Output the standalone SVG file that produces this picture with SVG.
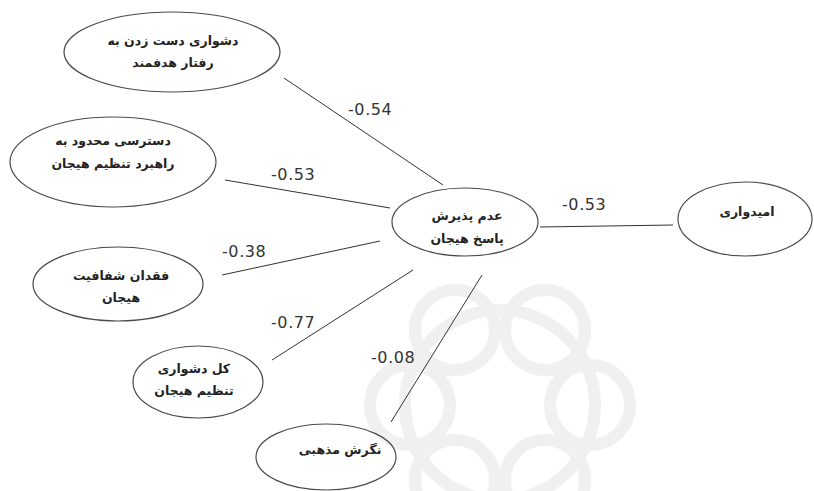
<svg xmlns="http://www.w3.org/2000/svg" width="814" height="491" viewBox="0 0 814 491">
<style>
.node ellipse{fill:none;stroke:#4a4a4a;stroke-width:1.2}
.node text{font-family:"DejaVu Sans",sans-serif;font-weight:bold;font-size:12.5px;fill:#222;text-anchor:middle}
.edge line{stroke:#333;stroke-width:1}
.lbl{font-family:"DejaVu Sans",sans-serif;font-size:16px;fill:#333;letter-spacing:0.6px}
.wm{fill:none;stroke:#f0f0f0;stroke-width:12}
</style>
<rect width="814" height="491" fill="#ffffff"/>
<g id="watermark" class="wm">
<circle cx="455" cy="330" r="40"/>
<circle cx="545" cy="330" r="40"/>
<circle cx="410" cy="405" r="40"/>
<circle cx="590" cy="405" r="40"/>
<circle cx="455" cy="480" r="40"/>
<circle cx="545" cy="480" r="40"/>
<circle cx="500" cy="405" r="95"/>
</g>
<g id="connectors" class="edge">
<line x1="284" y1="78" x2="443" y2="185"/>
<line x1="225" y1="180" x2="390" y2="208"/>
<line x1="222" y1="275" x2="380" y2="241"/>
<line x1="272" y1="360" x2="413" y2="270"/>
<line x1="391" y1="422" x2="482" y2="275"/>
<line x1="540" y1="227" x2="673" y2="225"/>
<text class="lbl" x="348" y="115">-0.54</text>
<text class="lbl" x="271" y="180">-0.53</text>
<text class="lbl" x="222" y="257">-0.38</text>
<text class="lbl" x="271" y="328">-0.77</text>
<text class="lbl" x="371" y="363">-0.08</text>
<text class="lbl" x="562" y="210">-0.53</text>
</g>
<g id="n1" class="node">
<ellipse cx="172" cy="52" rx="108" ry="40"/>
<text x="173" y="45">دشواری دست زدن به</text>
<text x="173" y="67">رفتار هدفمند</text>
</g>
<g id="n2" class="node">
<ellipse cx="113" cy="162" rx="103" ry="45"/>
<text x="113" y="145">دسترسی محدود به</text>
<text x="113" y="168">راهبرد تنظیم هیجان</text>
</g>
<g id="n3" class="node">
<ellipse cx="118" cy="284" rx="85" ry="37"/>
<text x="121" y="280">فقدان شفافیت</text>
<text x="121" y="302">هیجان</text>
</g>
<g id="n4" class="node">
<ellipse cx="198" cy="382" rx="65" ry="36"/>
<text x="194" y="373">کل دشواری</text>
<text x="194" y="395">تنظیم هیجان</text>
</g>
<g id="n5" class="node">
<ellipse cx="326" cy="457" rx="70" ry="33"/>
<text x="340" y="454">نگرش مذهبی</text>
</g>
<g id="n6" class="node">
<ellipse cx="465" cy="222" rx="73" ry="34"/>
<text x="467" y="220">عدم پذیرش</text>
<text x="467" y="243">پاسخ هیجان</text>
</g>
<g id="n7" class="node">
<ellipse cx="745" cy="219" rx="67" ry="37"/>
<text x="747" y="216">امیدواری</text>
</g>
</svg>
